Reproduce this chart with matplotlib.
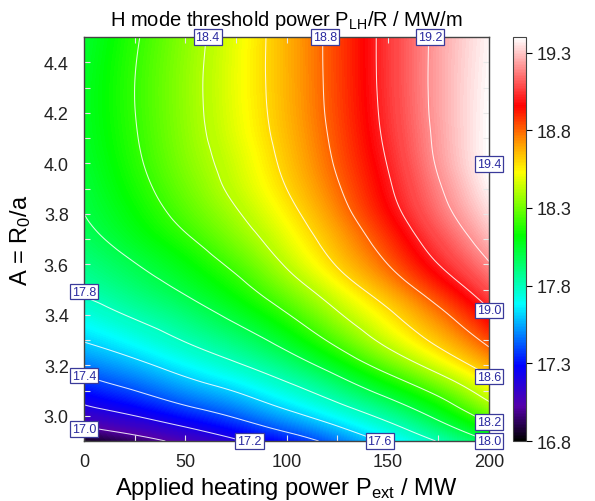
import numpy as np
import matplotlib
matplotlib.use("Agg")
import matplotlib.pyplot as plt
import matplotlib.tri as mtri
from matplotlib.colors import LinearSegmentedColormap, Normalize
from matplotlib.ticker import MultipleLocator

plt.rcParams['font.family'] = ['Liberation Sans', 'DejaVu Sans']
plt.rcParams['mathtext.fontset'] = 'custom'
plt.rcParams['mathtext.rm'] = 'Liberation Sans'
plt.rcParams['mathtext.it'] = 'Liberation Sans:italic'

# ---- data ----
power = [0, 25, 50, 75, 100, 125, 150, 175, 200]          # MW
aspect = [2.9, 3.0, 3.1, 3.2, 3.3, 3.4, 3.5, 3.6, 3.7, 3.8,
          3.9, 4.0, 4.1, 4.2, 4.3, 4.4, 4.5]
plh_r = [
    [16.83, 16.93, 17.05, 17.18, 17.31, 17.46, 17.63, 17.81, 18.00],    # 2.9
    [17.11, 17.20, 17.31, 17.42, 17.55, 17.69, 17.85, 18.04, 18.27],    # 3.0
    [17.30, 17.40, 17.51, 17.61, 17.74, 17.89, 18.06, 18.25, 18.49],    # 3.1
    [17.47, 17.56, 17.67, 17.78, 17.91, 18.075, 18.27, 18.47, 18.68],   # 3.2
    [17.61, 17.70, 17.81, 17.92, 18.06, 18.245, 18.45, 18.64, 18.84],   # 3.3
    [17.72, 17.82, 17.92, 18.04, 18.19, 18.38, 18.57, 18.76, 18.97],    # 3.4
    [17.83, 17.92, 18.02, 18.145, 18.31, 18.50, 18.69, 18.885, 19.09],  # 3.5
    [17.90, 17.995, 18.10, 18.235, 18.415, 18.61, 18.80, 19.00, 19.19], # 3.6
    [17.96, 18.065, 18.18, 18.32, 18.49, 18.68, 18.875, 19.08, 19.27],  # 3.7
    [18.00, 18.115, 18.245, 18.385, 18.55, 18.74, 18.94, 19.145, 19.33],  # 3.8
    [18.02, 18.15, 18.29, 18.435, 18.60, 18.785, 18.98, 19.185, 19.375],  # 3.9
    [18.04, 18.175, 18.32, 18.462, 18.632, 18.815, 19.005, 19.215, 19.398],  # 4.0
    [18.055, 18.19, 18.337, 18.485, 18.652, 18.833, 19.025, 19.228, 19.398],  # 4.1
    [18.06, 18.198, 18.345, 18.498, 18.665, 18.845, 19.037, 19.235, 19.395],  # 4.2
    [18.06, 18.20, 18.347, 18.503, 18.67, 18.85, 19.043, 19.237, 19.39],  # 4.3
    [18.05, 18.195, 18.343, 18.502, 18.672, 18.852, 19.045, 19.236, 19.385],  # 4.4
    [18.04, 18.185, 18.335, 18.497, 18.672, 18.852, 19.045, 19.233, 19.38],  # 4.5
]
contour_levels = [17.0, 17.2, 17.4, 17.6, 17.8, 18.0, 18.2, 18.4, 18.6, 18.8, 19.0, 19.2, 19.4]
cbar_ticks = [16.8, 17.3, 17.8, 18.3, 18.8, 19.3]
x_ticks = [0, 50, 100, 150, 200]
y_ticks = [3.0, 3.2, 3.4, 3.6, 3.8, 4.0, 4.2, 4.4]

# contour label placements (value, edge, coordinate along edge)
label_values = [18.4, 18.8, 19.2, 19.4, 19.0, 18.6, 18.2, 18.0, 17.8, 17.4, 17.0, 17.2, 17.6]
label_edges = ['top', 'top', 'top', 'right', 'right', 'right', 'right', 'right',
               'left', 'left', 'left', 'bottom', 'bottom']
label_along = [61, 119, 171, 3.996, 3.417, 3.155, 2.976, 2.9,
               3.492, 3.159, 2.948, 81.7, 146]

vmin, vmax = 16.8, 19.4

cmap = LinearSegmentedColormap.from_list('rainbow_w', [
    (0.0, '#000000'),
    ((17.02 - vmin) / (vmax - vmin), '#5500aa'),
    ((17.28 - vmin) / (vmax - vmin), '#0000ff'),
    ((17.68 - vmin) / (vmax - vmin), '#00ffff'),
    ((18.12 - vmin) / (vmax - vmin), '#00ff00'),
    ((18.53 - vmin) / (vmax - vmin), '#ffff00'),
    ((18.72 - vmin) / (vmax - vmin), '#ff9900'),
    ((18.96 - vmin) / (vmax - vmin), '#ff0000'),
    (1.0, '#ffffff'),
])
norm = Normalize(vmin=vmin, vmax=vmax)

P, A = np.meshgrid(np.array(power, float), np.array(aspect, float))
Z = np.array(plh_r)

# smooth rendering of the grid with matplotlib's own cubic triangulation refiner
tri = mtri.Triangulation(P.ravel(), A.ravel())
refiner = mtri.UniformTriRefiner(tri)
tri_f, z_f = refiner.refine_field(Z.ravel(), subdiv=4)

fig = plt.figure(figsize=(5.95, 5.02), dpi=100)
ax = fig.add_axes([84 / 595, 60 / 502, 405 / 595, 404 / 502])
cax = fig.add_axes([513 / 595, 60 / 502, 13 / 595, 404 / 502])

ax.tricontourf(tri_f, z_f, levels=np.linspace(vmin, vmax, 261), cmap=cmap,
               norm=norm, extend='both')
ax.tricontour(tri_f, z_f, levels=contour_levels, colors='white',
              linewidths=0.75, alpha=0.85)

ax.set_xlim(0, 200)
ax.set_ylim(2.9, 4.5)
ax.set_xticks(x_ticks)
ax.set_yticks(y_ticks)
ax.xaxis.set_minor_locator(MultipleLocator(25))
ax.yaxis.set_minor_locator(MultipleLocator(0.1))
ax.tick_params(which='both', direction='in', top=True, right=True,
               color='#e8e8e8', labelsize=13, labelcolor='#222222')
ax.tick_params(which='both', length=4, width=0.8)
ax.tick_params(axis='x', which='major', pad=9)
ax.tick_params(axis='y', which='major', pad=11)
for s in ax.spines.values():
    s.set_color('#444444')
    s.set_linewidth(1.0)

ax.set_xlabel('Applied heating power P$_\\mathrm{ext}$ / MW', fontsize=17, labelpad=3)
ax.set_ylabel('A = R$_\\mathrm{0}$/a', fontsize=17, labelpad=8)
ax.set_title('H mode threshold power P$_\\mathrm{LH}$/R / MW/m', fontsize=14.5, pad=9)

bbox = dict(boxstyle='square,pad=0.15', fc='white', ec='#3a3a9a', lw=0.9)
for v, edge, pos in zip(label_values, label_edges, label_along):
    if edge == 'top':
        xy = (pos, 4.5)
    elif edge == 'bottom':
        xy = (pos, 2.9)
    elif edge == 'left':
        xy = (0, pos)
    else:
        xy = (200, pos)
    ax.text(xy[0], xy[1], f'{v:.1f}', ha='center', va='center', fontsize=9,
            color='#2a2aa0', bbox=bbox, clip_on=False, zorder=10)

sm = plt.cm.ScalarMappable(norm=norm, cmap=cmap)
cb = fig.colorbar(sm, cax=cax, ticks=cbar_ticks)
cb.ax.tick_params(labelsize=13, length=4, width=0.8, direction='out', labelcolor='#222222')
cb.ax.set_yticklabels([f'{t:.1f}' for t in cbar_ticks])
cb.outline.set_edgecolor('#444444')

fig.savefig('out.png', dpi=100)
